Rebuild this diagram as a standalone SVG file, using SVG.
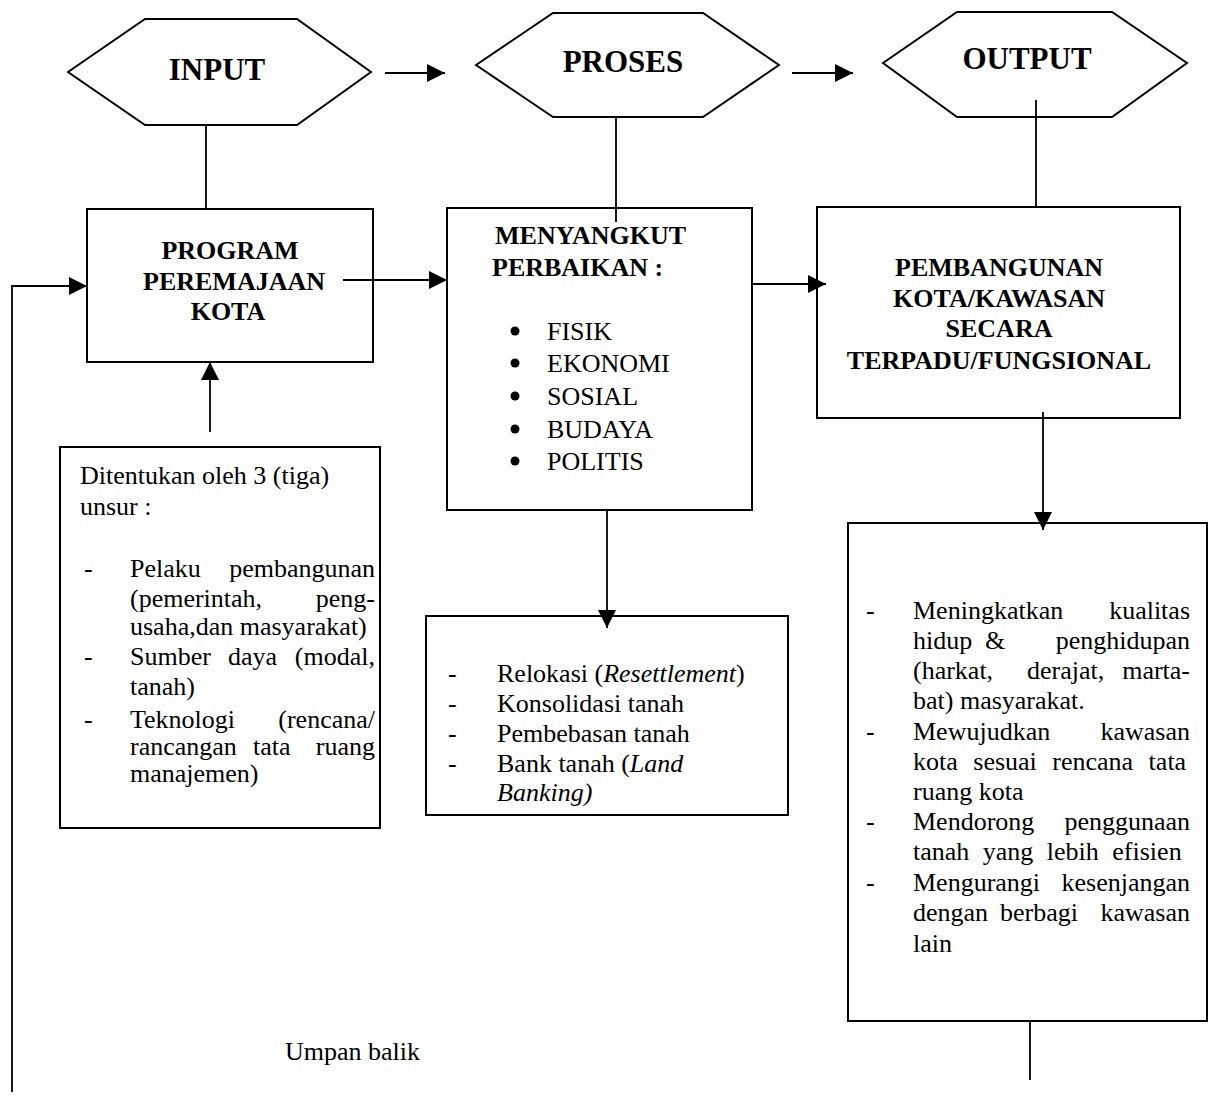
<svg xmlns="http://www.w3.org/2000/svg" width="1209" height="1097" viewBox="0 0 1209 1097">
  <style>
    .shape { fill: #ffffff; stroke: #000000; stroke-width: 2; }
    .conn { fill: none; stroke: #000000; stroke-width: 1.8; }
    .t { font-family: "Liberation Serif", "Times New Roman", serif; font-size: 26px; fill: #000000; }
    .b { font-weight: bold; }
    .hex { font-family: "Liberation Serif", "Times New Roman", serif; font-size: 31px; font-weight: bold; fill: #000000; text-anchor: middle; }
    .c { text-anchor: middle; }
    .e { text-anchor: end; }
    .i { font-style: italic; }
  </style>
  <defs>
    <marker id="arrow" viewBox="0 0 10 10" refX="10" refY="5" markerWidth="21" markerHeight="18" markerUnits="userSpaceOnUse" orient="auto">
      <path d="M0,0 L10,5 L0,10 Z" fill="#000000"/>
    </marker>
  </defs>
  <rect width="1209" height="1097" fill="#ffffff"/>

  <!-- top row: input / proses / output -->
  <g id="hex-input">
    <polygon class="shape" points="68,72 145,19 297,19 371,72 297,125 145,125"/>
    <text class="hex" x="217" y="80">INPUT</text>
  </g>
  <g id="hex-proses">
    <polygon class="shape" points="476,65 553,13 703,13 779,65 703,117 553,117"/>
    <text class="hex" x="623" y="72">PROSES</text>
  </g>
  <g id="hex-output">
    <polygon class="shape" points="883,63 957,12 1112,12 1187,63 1112,117 957,117"/>
    <text class="hex" x="1027" y="69">OUTPUT</text>
  </g>

  <!-- program box -->
  <g id="program">
    <rect class="shape" x="87" y="209" width="286" height="153"/>
    <text class="t b c" x="230" y="259">PROGRAM</text>
    <text class="t b c" x="234" y="290">PEREMAJAAN</text>
    <text class="t b c" x="228" y="320">KOTA</text>
  </g>

  <!-- perbaikan box -->
  <g id="perbaikan">
    <rect class="shape" x="447" y="208" width="305" height="302"/>
    <text class="t b" x="495" y="244">MENYANGKUT</text>
    <text class="t b" x="492" y="276">PERBAIKAN :</text>
    <circle cx="515" cy="331" r="4.5"/>
    <circle cx="515" cy="363" r="4.5"/>
    <circle cx="515" cy="396" r="4.5"/>
    <circle cx="515" cy="429" r="4.5"/>
    <circle cx="515" cy="461" r="4.5"/>
    <text class="t" x="547" y="340">FISIK</text>
    <text class="t" x="547" y="372">EKONOMI</text>
    <text class="t" x="547" y="405">SOSIAL</text>
    <text class="t" x="547" y="438">BUDAYA</text>
    <text class="t" x="547" y="470">POLITIS</text>
  </g>

  <!-- pembangunan box -->
  <g id="pembangunan">
    <rect class="shape" x="817" y="207" width="363" height="211"/>
    <text class="t b c" x="999" y="276">PEMBANGUNAN</text>
    <text class="t b c" x="999" y="307">KOTA/KAWASAN</text>
    <text class="t b c" x="999" y="337">SECARA</text>
    <text class="t b c" x="999" y="369">TERPADU/FUNGSIONAL</text>
  </g>

  <!-- unsur box -->
  <g id="unsur">
    <rect class="shape" x="60" y="447" width="320" height="381"/>
    <text class="t" x="80" y="484">Ditentukan oleh 3 (tiga)</text>
    <text class="t" x="80" y="515">unsur :</text>
    <text class="t" x="84" y="577">-</text>
    <text class="t" x="130" y="577">Pelaku</text>
    <text class="t e" x="375" y="577">pembangunan</text>
    <text class="t" x="130" y="607">(pemerintah,</text>
    <text class="t e" x="375" y="607">peng-</text>
    <text class="t" x="130" y="635">usaha,dan masyarakat)</text>
    <text class="t" x="84" y="665">-</text>
    <text class="t" x="130" y="665">Sumber</text>
    <text class="t" x="228" y="665">daya</text>
    <text class="t e" x="375" y="665">(modal,</text>
    <text class="t" x="130" y="695">tanah)</text>
    <text class="t" x="84" y="728">-</text>
    <text class="t" x="130" y="728">Teknologi</text>
    <text class="t e" x="375" y="728">(rencana/</text>
    <text class="t" x="130" y="755">rancangan</text>
    <text class="t" x="253" y="755">tata</text>
    <text class="t e" x="375" y="755">ruang</text>
    <text class="t" x="130" y="782">manajemen)</text>
  </g>

  <!-- tindakan box -->
  <g id="tindakan">
    <rect class="shape" x="426" y="616" width="362" height="199"/>
    <text class="t" x="448" y="682">-</text>
    <text class="t" x="497" y="682">Relokasi (<tspan class="i">Resettlement</tspan>)</text>
    <text class="t" x="448" y="712">-</text>
    <text class="t" x="497" y="712">Konsolidasi tanah</text>
    <text class="t" x="448" y="742">-</text>
    <text class="t" x="497" y="742">Pembebasan tanah</text>
    <text class="t" x="448" y="772">-</text>
    <text class="t" x="497" y="772">Bank tanah (<tspan class="i">Land</tspan></text>
    <text class="t i" x="497" y="801">Banking)</text>
  </g>

  <!-- hasil box -->
  <g id="hasil">
    <rect class="shape" x="848" y="523" width="359" height="498"/>
    <text class="t" x="866" y="619">-</text>
    <text class="t" x="913" y="619">Meningkatkan</text>
    <text class="t e" x="1190" y="619">kualitas</text>
    <text class="t" x="913" y="649">hidup</text>
    <text class="t" x="985" y="649">&amp;</text>
    <text class="t e" x="1190" y="649">penghidupan</text>
    <text class="t" x="913" y="679">(harkat,</text>
    <text class="t" x="1027" y="679">derajat,</text>
    <text class="t e" x="1190" y="679">marta-</text>
    <text class="t" x="913" y="709">bat) masyarakat.</text>
    <text class="t" x="866" y="740">-</text>
    <text class="t" x="913" y="740">Mewujudkan</text>
    <text class="t e" x="1190" y="740">kawasan</text>
    <text class="t" x="913" y="770" word-spacing="9">kota sesuai rencana tata</text>
    <text class="t" x="913" y="800">ruang kota</text>
    <text class="t" x="866" y="830">-</text>
    <text class="t" x="913" y="830">Mendorong</text>
    <text class="t e" x="1190" y="830">penggunaan</text>
    <text class="t" x="913" y="860" word-spacing="7">tanah yang lebih efisien</text>
    <text class="t" x="866" y="891">-</text>
    <text class="t" x="913" y="891">Mengurangi</text>
    <text class="t e" x="1190" y="891">kesenjangan</text>
    <text class="t" x="913" y="921">dengan</text>
    <text class="t" x="1000" y="921">berbagi</text>
    <text class="t e" x="1190" y="921">kawasan</text>
    <text class="t" x="913" y="952">lain</text>
  </g>

  <!-- feedback label -->
  <g id="umpan-balik">
    <text class="t" x="285" y="1060">Umpan balik</text>
  </g>

  <!-- connectors, drawn over the boxes so arrow tips stay visible -->
  <g id="connectors">
    <line class="conn" x1="385" y1="73" x2="445" y2="73" marker-end="url(#arrow)"/>
    <line class="conn" x1="792" y1="73" x2="853" y2="73" marker-end="url(#arrow)"/>
    <line class="conn" x1="206" y1="125" x2="206" y2="209"/>
    <line class="conn" x1="616" y1="117" x2="616" y2="222"/>
    <line class="conn" x1="1036" y1="100" x2="1036" y2="207"/>
    <line class="conn" x1="343" y1="280" x2="447" y2="280" marker-end="url(#arrow)"/>
    <line class="conn" x1="752" y1="284" x2="826" y2="284" marker-end="url(#arrow)"/>
    <line class="conn" x1="210" y1="432" x2="210" y2="362" marker-end="url(#arrow)"/>
    <line class="conn" x1="607" y1="510" x2="607" y2="628" marker-end="url(#arrow)"/>
    <line class="conn" x1="1043" y1="412" x2="1043" y2="530" marker-end="url(#arrow)"/>
    <polyline class="conn" points="12,1092 12,286 87,286" marker-end="url(#arrow)"/>
    <line class="conn" x1="1030" y1="1022" x2="1030" y2="1080"/>
  </g>
</svg>
